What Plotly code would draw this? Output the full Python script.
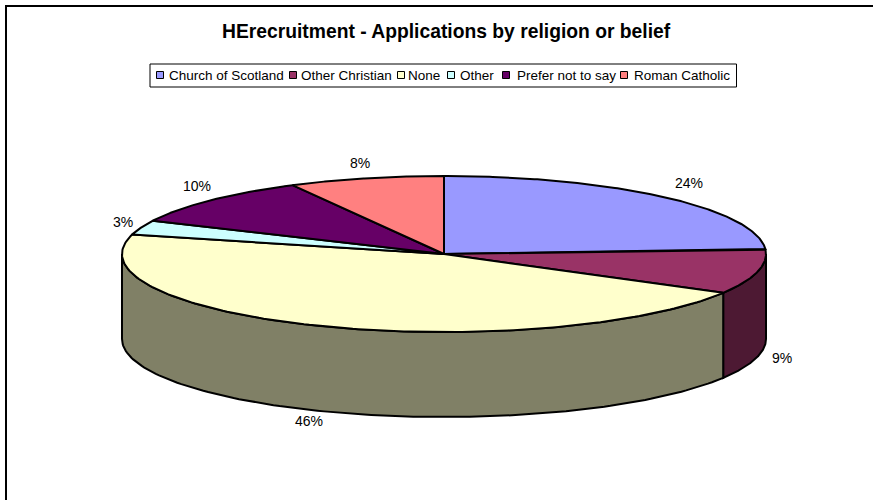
import numpy as np
import plotly.graph_objects as go

title = "HErecruitment - Applications by religion or belief"
categories = ["Church of Scotland", "Other Christian", "None", "Other", "Prefer not to say", "Roman Catholic"]
values = [24.0, 9.3, 45.7, 3.0, 10.2, 7.8]
top_colors = ["#9999FF", "#993366", "#FFFFCC", "#CCFFFF", "#660066", "#FF8080"]
side_colors = ["#4D4D80", "#4D1933", "#808066", "#668080", "#330033", "#804040"]

# layout constants (pixel space of the 873x500 page)
W, H = 873, 500
CX, CY, RX, RY, DEPTH = 444, 254, 322, 78, 85
legend_swatch_x = [160, 293, 401, 451, 506, 624]
legend_text_x = [169, 301, 408, 460, 517, 634]
label_xy = [(689, 183), (782, 358), (309, 421), (123, 222), (197, 186), (360, 163)]


def px(t):
    return CX + RX * np.sin(np.radians(t))


def py(t, drop=0):
    return CY - RY * np.cos(np.radians(t)) + drop


total = sum(values)
edges = np.concatenate([[0], np.cumsum(values)]) / total * 360
fig = go.Figure()

# side walls (only the front half of the cylinder shows)
for i in range(len(values)):
    a, b = max(edges[i], 90), min(edges[i + 1], 270)
    if b <= a:
        continue
    t = np.linspace(a, b, 120)
    xs = np.concatenate([px(t), px(t[::-1]), [px(t[0])]])
    ys = np.concatenate([py(t), py(t[::-1], DEPTH), [py(t[0])]])
    fig.add_trace(go.Scatter(x=xs, y=ys, mode="lines", fill="toself", fillcolor=side_colors[i],
                             line=dict(color="black", width=2), hoverinfo="skip", showlegend=False))

# top face
for i, cat in enumerate(categories):
    t = np.linspace(edges[i], edges[i + 1], 160)
    xs = np.concatenate([[CX], px(t), [CX]])
    ys = np.concatenate([[CY], py(t), [CY]])
    fig.add_trace(go.Scatter(x=xs, y=ys, mode="lines", fill="toself", fillcolor=top_colors[i],
                             line=dict(color="black", width=2), name=cat, hoverinfo="name", showlegend=False))

# legend swatches
fig.add_trace(go.Scatter(x=legend_swatch_x, y=[75] * 6, mode="markers", hoverinfo="skip", showlegend=False,
                         marker=dict(symbol="square", size=7, color=top_colors, line=dict(color="black", width=1))))

ann = [dict(x=446, y=31, text=f"<b>{title}</b>", showarrow=False, xanchor="center", yanchor="middle",
            font=dict(size=19.3, family="Liberation Sans", color="black"))]
for x, cat in zip(legend_text_x, categories):
    ann.append(dict(x=x, y=75, text=cat, showarrow=False, xanchor="left", yanchor="middle", xshift=-2,
                    font=dict(size=13.5, family="Liberation Sans", color="black")))
for (x, y), v in zip(label_xy, values):
    ann.append(dict(x=x, y=y, text=f"{round(v / total * 100)}%", showarrow=False, xanchor="center", yanchor="middle",
                    font=dict(size=14, family="Liberation Sans", color="black")))

shapes = [
    dict(type="path", path=f"M 6 {H} L 6 6 L {W} 6", line=dict(color="black", width=2), layer="below"),
    dict(type="rect", x0=150, x1=736.5, y0=64, y1=87, line=dict(color="black", width=1), fillcolor="white", layer="below"),
]

fig.update_layout(
    width=W, height=H, margin=dict(l=0, r=0, t=0, b=0), paper_bgcolor="white", plot_bgcolor="white",
    xaxis=dict(range=[0, W], visible=False, fixedrange=True),
    yaxis=dict(range=[H, 0], visible=False, fixedrange=True),
    annotations=ann, shapes=shapes, showlegend=False,
)
fig.write_html("out.html", config=dict(displayModeBar=False),
               post_script="document.body.style.margin='0';document.documentElement.style.overflow='hidden';")
